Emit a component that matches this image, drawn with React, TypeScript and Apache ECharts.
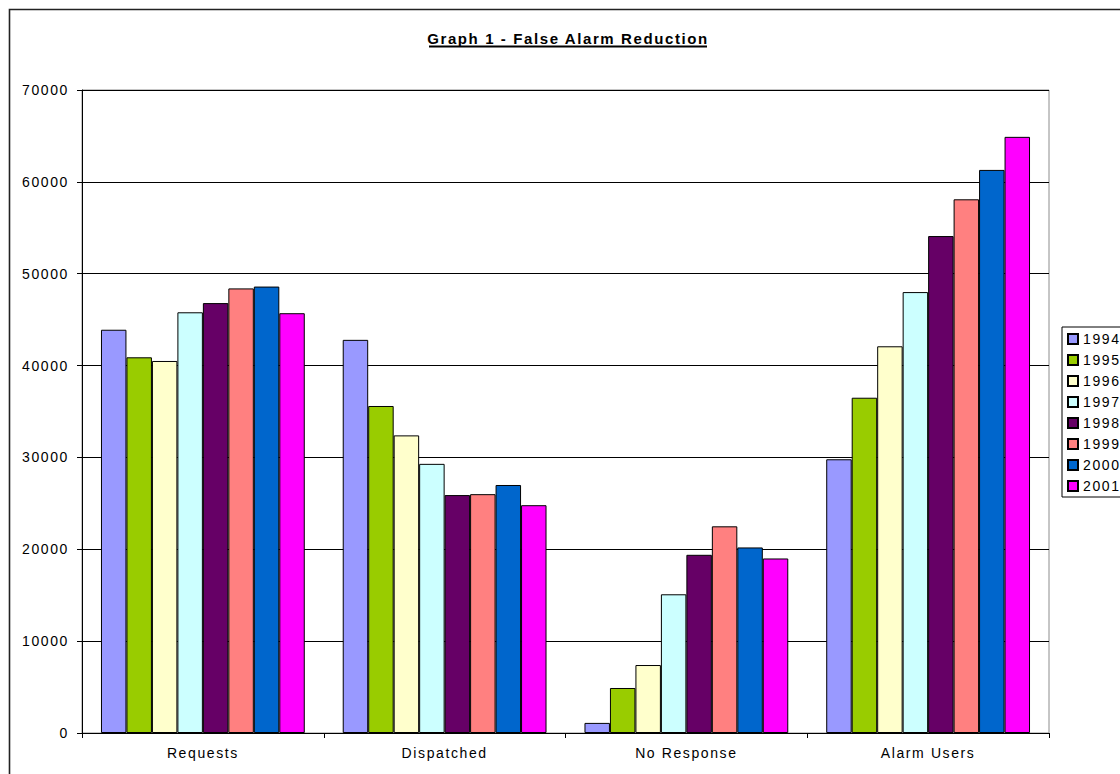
import React, { useEffect, useRef } from "react";
import * as echarts from "echarts";

// Categories along the x axis
const categories = ["Requests", "Dispatched", "No Response", "Alarm Users"];

// One series per year
const years = ["1994", "1995", "1996", "1997", "1998", "1999", "2000", "2001"];

const v1994 = [43900, 42800, 1100, 29800];
const v1995 = [40900, 35600, 4900, 36500];
const v1996 = [40500, 32400, 7400, 42100];
const v1997 = [45800, 29300, 15100, 48000];
const v1998 = [46800, 25900, 19400, 54100];
const v1999 = [48400, 26000, 22500, 58100];
const v2000 = [48600, 27000, 20200, 61300];
const v2001 = [45700, 24800, 19000, 64900];

const seriesValues = [v1994, v1995, v1996, v1997, v1998, v1999, v2000, v2001];

const colors = [
  "#9999FF",
  "#99CC00",
  "#FFFFCC",
  "#CCFFFF",
  "#660066",
  "#FF8080",
  "#0066CC",
  "#FF00FF",
];

const yTicks = { min: 0, max: 70000, interval: 10000 };

const FONT = "'Liberation Sans', Arial, sans-serif";

export default function App() {
  const ref = useRef<HTMLDivElement | null>(null);

  useEffect(() => {
    if (!ref.current) return;
    const chart = echarts.init(ref.current, undefined, { renderer: "svg" });

    chart.setOption({
      animation: false,
      backgroundColor: "#ffffff",
      title: {
        text: "Graph 1 - False Alarm Reduction",
        left: 568,
        top: 31,
        textAlign: "center",
        padding: 0,
        textStyle: {
          fontFamily: FONT,
          fontSize: 15,
          fontWeight: "bold",
          color: "#000",
        },
      },
      graphic: [
        // chart frame: left and top edges (the rest runs off the page)
        {
          type: "polyline",
          silent: true,
          z: -10,
          shape: { points: [[9.5, 800], [9.5, 9.5], [1130, 9.5]] },
          style: { fill: "none", stroke: "#222", lineWidth: 1.6 },
        },
        // title underline
        {
          type: "line",
          silent: true,
          shape: { x1: 429, y1: 46.5, x2: 707, y2: 46.5 },
          style: { stroke: "#000", lineWidth: 2 },
        },
      ],
      legend: {
        orient: "vertical",
        left: 1062,
        top: 327,
        icon: "rect",
        itemWidth: 10,
        itemHeight: 10,
        itemGap: 5,
        padding: [4, 12, 3, 5],
        backgroundColor: "#fff",
        borderColor: "#000",
        borderWidth: 1,
        data: years,
        textStyle: {
          fontFamily: FONT,
          fontSize: 14,
          lineHeight: 16,
          color: "#000",
        },
      },
      grid: {
        left: 82,
        right: 71,
        top: 90,
        bottom: 41,
        show: true,
        borderColor: "#8c8c8c",
        borderWidth: 1,
      },
      xAxis: {
        type: "category",
        data: categories,
        axisLine: { show: true, lineStyle: { color: "#000", width: 1 } },
        axisTick: {
          show: true,
          alignWithLabel: false,
          length: 5,
          lineStyle: { color: "#000" },
        },
        axisLabel: {
          fontFamily: FONT,
          fontSize: 14,
          color: "#000",
          margin: 13,
        },
        splitLine: { show: false },
      },
      yAxis: {
        type: "value",
        min: yTicks.min,
        max: yTicks.max,
        interval: yTicks.interval,
        axisLine: { show: true, lineStyle: { color: "#000", width: 1 } },
        axisTick: { show: true, length: 5, lineStyle: { color: "#000" } },
        axisLabel: {
          fontFamily: FONT,
          fontSize: 14,
          color: "#000",
          margin: 13,
          formatter: (v: number) => String(v),
        },
        splitLine: { show: true, lineStyle: { color: "#000", width: 1 } },
      },
      series: years.map((y, i) => ({
        name: y,
        type: "bar",
        data: seriesValues[i],
        barGap: "0%",
        barCategoryGap: "15.7%",
        itemStyle: {
          color: colors[i],
          borderColor: "#000",
          borderWidth: 1,
        },
      })),
    });

    return () => {
      chart.dispose();
    };
  }, []);

  return (
    <>
      <style>{`#falseAlarmChart text { letter-spacing: 1.6px; }`}</style>
      <div
        id="falseAlarmChart"
        ref={ref}
        style={{
          position: "absolute",
          left: 0,
          top: 0,
          width: 1120,
          height: 774,
          overflow: "hidden",
        }}
      />
    </>
  );
}
